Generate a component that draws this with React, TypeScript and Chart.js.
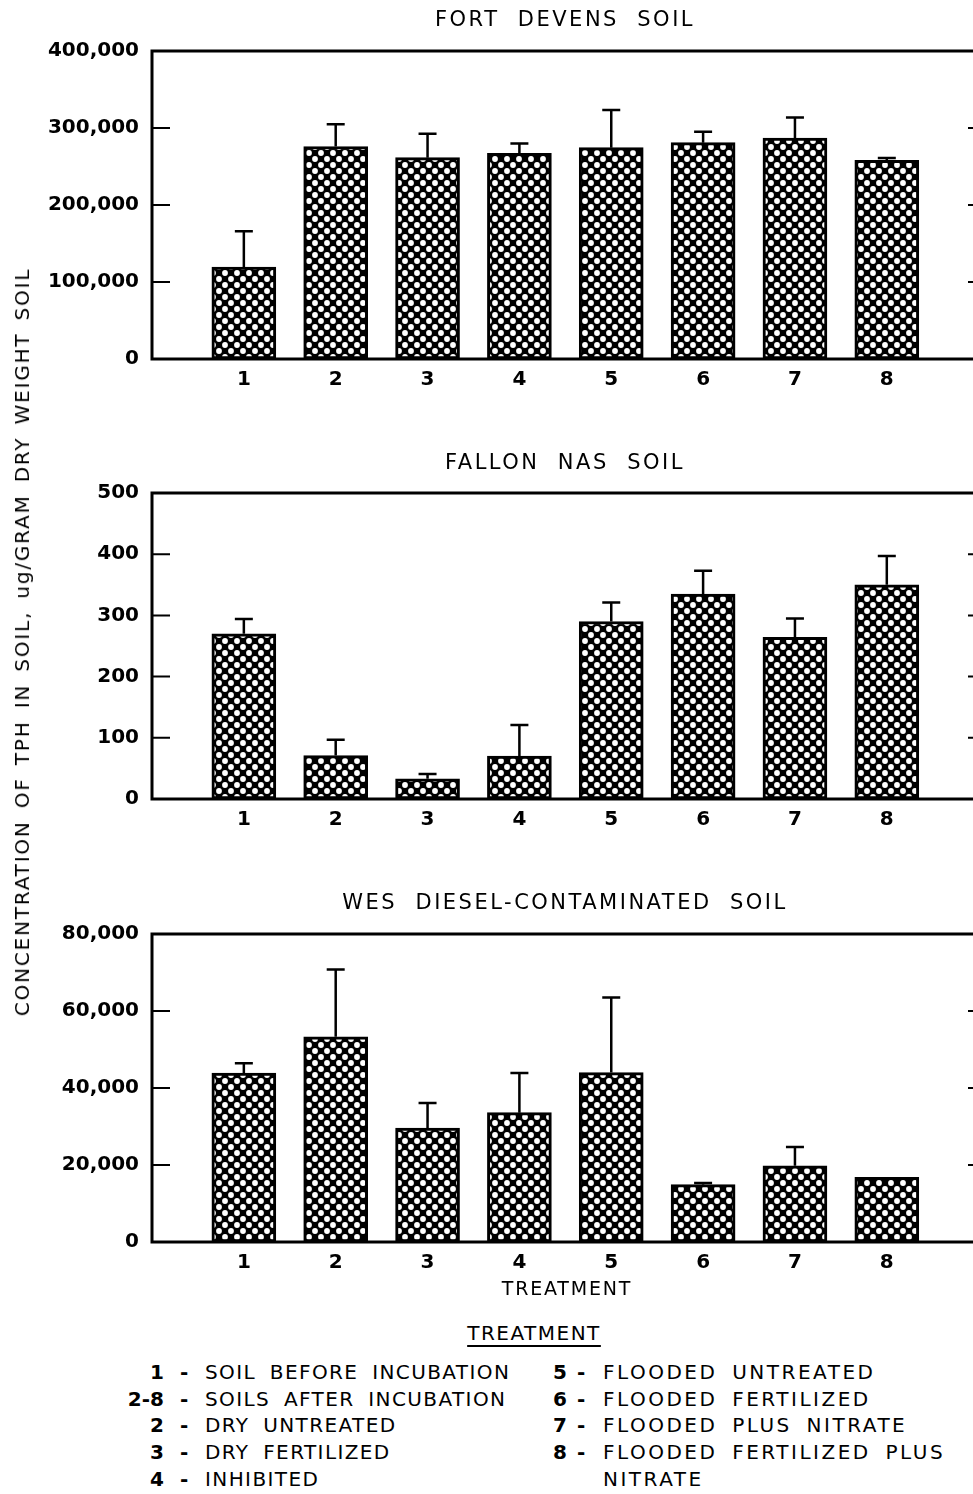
import React, { useEffect, useRef } from 'react';
import { Chart, registerables } from 'chart.js';

Chart.register(...registerables);

// Treatment numbers on the x axis
const treatments = [1, 2, 3, 4, 5, 6, 7, 8];

// Fort Devens soil (ug/g)
const fortDevensMeans = [119500, 276000, 261500, 267000, 274500, 281000, 287000, 258000];
const fortDevensErrors = [46500, 29000, 31000, 13000, 49000, 14000, 26500, 3000];
const fortDevensTicks = [0, 100000, 200000, 300000, 400000];

// Fallon NAS soil (ug/g)
const fallonMeans = [270, 71, 33, 70, 290, 335, 264, 350];
const fallonErrors = [24, 26, 8, 51, 31, 38, 31, 47];
const fallonTicks = [0, 100, 200, 300, 400, 500];

// WES diesel-contaminated soil (ug/g)
const wesMeans = [43900, 53300, 29600, 33600, 44000, 14900, 19800, 16800];
const wesErrors = [2500, 17500, 6500, 10300, 19500, 400, 4900, 0];
const wesTicks = [0, 20000, 40000, 60000, 80000];

const legendLeft: [string, string][] = [
  ['1', 'SOIL BEFORE INCUBATION'],
  ['2-8', 'SOILS AFTER INCUBATION'],
  ['2', 'DRY UNTREATED'],
  ['3', 'DRY FERTILIZED'],
  ['4', 'INHIBITED'],
];
const legendRight: [string, string][] = [
  ['5', 'FLOODED UNTREATED'],
  ['6', 'FLOODED FERTILIZED'],
  ['7', 'FLOODED PLUS NITRATE'],
  ['8', 'FLOODED FERTILIZED PLUS'],
  ['', 'NITRATE'],
];
const legendRows = [1372, 1399, 1425, 1452, 1479];

const FONT = '"DejaVu Sans", sans-serif';

type Panel = {
  title: string;
  means: number[];
  errors: number[];
  ticks: number[];
  top: number;
  height: number;
  padTop: number;
  xHeight: number;
  titleY: number;
  xTitle?: string;
};

const panels: Panel[] = [
  { title: 'FORT  DEVENS  SOIL', means: fortDevensMeans, errors: fortDevensErrors, ticks: fortDevensTicks, top: 0, height: 400, padTop: 51, xHeight: 41, titleY: 21 },
  { title: 'FALLON  NAS  SOIL', means: fallonMeans, errors: fallonErrors, ticks: fallonTicks, top: 440, height: 400, padTop: 53, xHeight: 41, titleY: 23.5 },
  { title: 'WES  DIESEL-CONTAMINATED  SOIL', means: wesMeans, errors: wesErrors, ticks: wesTicks, top: 880, height: 422, padTop: 54, xHeight: 60, titleY: 23.5, xTitle: 'TREATMENT' },
];

// Black cross-hatch with round white holes, used as bar fill
function makeHatch(): CanvasPattern | string {
  const tile = document.createElement('canvas');
  tile.width = 12;
  tile.height = 12;
  const t = tile.getContext('2d');
  if (!t) return '#000';
  t.fillStyle = '#000';
  t.fillRect(0, 0, 12, 12);
  t.fillStyle = '#fff';
  for (const [cx, cy] of [[3, 3], [9, 9]]) {
    t.beginPath();
    t.arc(cx, cy, 2.9, 0, Math.PI * 2);
    t.fill();
  }
  return t.createPattern(tile, 'repeat') || '#000';
}

function BarPanel({ p }: { p: Panel }) {
  const ref = useRef<HTMLCanvasElement>(null);
  useEffect(() => {
    const canvas = ref.current;
    if (!canvas) return;
    const hatch = makeHatch();
    const decor = {
      id: 'panelDecor',
      afterDatasetsDraw(chart: any) {
        const { ctx, chartArea: a } = chart;
        const y = chart.scales.y;
        ctx.save();
        ctx.strokeStyle = '#000';
        ctx.lineCap = 'butt';
        // error bars (upper side only)
        ctx.lineWidth = 2.5;
        const meta = chart.getDatasetMeta(0);
        meta.data.forEach((bar: any, i: number) => {
          const err = p.errors[i];
          if (!err) return;
          const yTop = y.getPixelForValue(p.means[i] + err);
          ctx.beginPath();
          ctx.moveTo(bar.x, bar.y);
          ctx.lineTo(bar.x, yTop);
          ctx.moveTo(bar.x - 9, yTop);
          ctx.lineTo(bar.x + 9, yTop);
          ctx.stroke();
        });
        // plot frame
        ctx.lineWidth = 3;
        ctx.strokeRect(a.left, a.top, a.right - a.left, a.bottom - a.top);
        // inward tick marks on both vertical sides
        ctx.lineWidth = 2;
        p.ticks.slice(1, -1).forEach((v) => {
          const py = y.getPixelForValue(v);
          ctx.beginPath();
          ctx.moveTo(a.left, py);
          ctx.lineTo(a.left + 18, py);
          ctx.moveTo(a.right - 18, py);
          ctx.lineTo(a.right, py);
          ctx.stroke();
        });
        // panel title
        ctx.fillStyle = '#000';
        ctx.font = `21px ${FONT}`;
        (ctx as any).letterSpacing = '2.5px';
        ctx.textAlign = 'center';
        ctx.textBaseline = 'middle';
        ctx.fillText(p.title, 565, p.titleY);
        // x axis title
        if (p.xTitle) {
          ctx.font = `19px ${FONT}`;
          (ctx as any).letterSpacing = '1.8px';
          ctx.fillText(p.xTitle, 567, a.bottom + 48);
        }
        ctx.restore();
      },
    };
    const chart = new Chart(canvas, {
      type: 'bar',
      data: {
        datasets: [
          {
            data: treatments.map((t, i) => ({ x: t, y: p.means[i] })),
            backgroundColor: hatch as any,
            borderColor: '#000',
            borderWidth: 3,
            borderSkipped: false,
            barThickness: 64,
          },
        ],
      },
      options: {
        responsive: false,
        animation: false,
        devicePixelRatio: 1,
        layout: { padding: { top: p.padTop, left: 0, right: 14, bottom: 0 } },
        plugins: {
          legend: { display: false },
          tooltip: { enabled: false },
          title: { display: false },
        },
        scales: {
          x: {
            type: 'linear',
            offset: false,
            min: 0,
            max: 9.08,
            grid: { display: false, drawTicks: false, offset: false },
            border: { display: false },
            afterBuildTicks: (s: any) => {
              s.ticks = treatments.map((v) => ({ value: v }));
            },
            afterFit: (s: any) => {
              s.height = p.xHeight;
            },
            ticks: {
              font: { family: FONT, weight: 'bold', size: 20 },
              color: '#000',
              padding: 9,
              autoSkip: false,
              maxRotation: 0,
              callback: (v: any) => String(v),
            },
          },
          y: {
            type: 'linear',
            min: 0,
            max: p.ticks[p.ticks.length - 1],
            grid: { display: false, drawTicks: false },
            border: { display: false },
            afterBuildTicks: (s: any) => {
              s.ticks = p.ticks.map((v) => ({ value: v }));
            },
            afterFit: (s: any) => {
              s.width = 152;
            },
            ticks: {
              font: { family: FONT, weight: 'bold', size: 20 },
              color: '#000',
              padding: 13,
              callback: (v: any) => Number(v).toLocaleString('en-US'),
            },
          },
        },
      } as any,
      plugins: [decor],
    });
    return () => chart.destroy();
  }, [p]);
  return (
    <canvas
      ref={ref}
      width={1000}
      height={p.height}
      style={{ position: 'absolute', left: 0, top: p.top, width: 1000, height: p.height }}
    />
  );
}

const textStyle: React.CSSProperties = {
  position: 'absolute',
  fontFamily: FONT,
  fontSize: 20,
  lineHeight: '24px',
  height: 24,
  whiteSpace: 'pre',
  color: '#000',
};

function LegendColumn({ items, numRight, dashX, textX, spacing }: { items: [string, string][]; numRight: number; dashX: number; textX: number; spacing: string }) {
  return (
    <>
      {items.map(([num, text], i) => {
        const top = legendRows[i] - 12;
        return (
          <React.Fragment key={i}>
            {num && (
              <span style={{ ...textStyle, top, left: numRight - 60, width: 60, textAlign: 'right', fontWeight: 'bold' }}>{num}</span>
            )}
            {num && <span style={{ ...textStyle, top, left: dashX, fontWeight: 'bold' }}>-</span>}
            <span style={{ ...textStyle, top, left: textX, letterSpacing: spacing, wordSpacing: '6px' }}>{text}</span>
          </React.Fragment>
        );
      })}
    </>
  );
}

export default function App() {
  return (
    <div style={{ position: 'fixed', left: 0, top: 0, width: 973, height: 1494, overflow: 'hidden', background: '#fff' }}>
      {panels.map((p, i) => (
        <BarPanel key={i} p={p} />
      ))}
      <div
        style={{
          position: 'absolute',
          left: 22,
          top: 642,
          transform: 'translate(-50%, -50%) rotate(-90deg)',
          fontFamily: FONT,
          fontSize: 20,
          letterSpacing: '1.8px',
          wordSpacing: '4px',
          whiteSpace: 'nowrap',
          color: '#000',
        }}
      >
        CONCENTRATION OF TPH IN SOIL, ug/GRAM DRY WEIGHT SOIL
      </div>
      <div
        style={{
          ...textStyle,
          top: 1321,
          left: 534,
          transform: 'translateX(-50%)',
          textDecoration: 'underline',
          textUnderlineOffset: '5px',
          letterSpacing: '1.5px',
        }}
      >
        TREATMENT
      </div>
      <LegendColumn items={legendLeft} numRight={164} dashX={180} textX={205} spacing="1.4px" />
      <LegendColumn items={legendRight} numRight={567} dashX={577} textX={603} spacing="2.5px" />
    </div>
  );
}
